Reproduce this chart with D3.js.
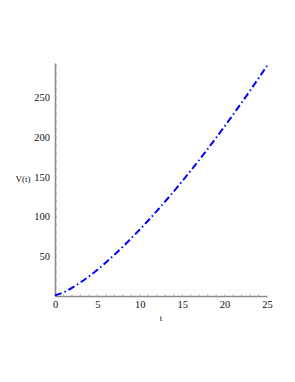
<!DOCTYPE html>
<html lang="en">
  <head>
    <meta charset="UTF-8">
    <title>V(t)</title>
    <script src="https://d3js.org/d3.v7.min.js"></script>
    <style>
      * {
        margin: 0;
        padding: 0;
      }
      body {
        background: #fff;
      }
      body > svg {
        display: block;
      }
    </style>
  </head>
  <body>
    <script>
      // values
      var times = [0, 1, 2, 3, 4, 5, 6, 7, 8, 9, 10, 11, 12, 13, 14, 15, 16, 17, 18, 19, 20, 21, 22, 23, 24, 25];
      var volume = [1, 4.6, 10.2, 17, 24.7, 33, 42.2, 51.8, 62, 72.6, 83.6, 95, 106.8, 119, 131.5, 144.3, 157.5, 171, 184.8, 199, 213.3, 228, 243, 258.2, 273.7, 289.5];
      var xTicks = [0, 5, 10, 15, 20, 25];
      var yTicks = [50, 100, 150, 200, 250];

      var width = 295;
      var height = 382;

      var svg = d3.select("body").append("svg")
        .attr("width", width)
        .attr("height", height);

      var x = d3.scaleLinear().domain([0, 25]).range([55, 267]);
      var y = d3.scaleLinear().domain([0, 293]).range([296, 63]);

      var axisColor = "#8c8c8c";
      var font = "'Liberation Serif', 'DejaVu Serif', serif";

      // minor ticks
      svg.append("g").selectAll("line")
        .data(d3.range(1, 25))
        .enter().append("line")
        .attr("x1", function (d) { return x(d); })
        .attr("x2", function (d) { return x(d); })
        .attr("y1", y(0))
        .attr("y2", y(0) - 2)
        .attr("stroke", "#c4c4c4")
        .attr("stroke-width", 1);

      svg.append("g").selectAll("line")
        .data(d3.range(10, 293, 10))
        .enter().append("line")
        .attr("y1", function (d) { return y(d); })
        .attr("y2", function (d) { return y(d); })
        .attr("x1", x(0))
        .attr("x2", x(0) + 2)
        .attr("stroke", "#c4c4c4")
        .attr("stroke-width", 1);

      // axes
      var xAxis = svg.append("g")
        .attr("transform", "translate(0," + y(0) + ")")
        .call(d3.axisBottom(x).tickValues(xTicks).tickSize(0).tickPadding(5));
      var yAxis = svg.append("g")
        .attr("transform", "translate(" + x(0) + ",0)")
        .call(d3.axisLeft(y).tickValues(yTicks).tickSize(0).tickPadding(5));

      [xAxis, yAxis].forEach(function (a) {
        a.select(".domain").attr("stroke", axisColor).attr("stroke-width", 1.6);
        a.selectAll("text")
          .attr("fill", "#111")
          .style("font-family", font)
          .style("font-size", "10.5px");
      });

      // curve
      var line = d3.line()
        .x(function (d, i) { return x(times[i]); })
        .y(function (d) { return y(d); })
        .curve(d3.curveMonotoneX);

      svg.append("path")
        .datum(volume)
        .attr("d", line)
        .attr("fill", "none")
        .attr("stroke", "#0000ff")
        .attr("stroke-width", 2)
        .attr("stroke-dasharray", "7,3,1.5,3");

      // axis labels
      svg.append("text")
        .attr("x", 161)
        .attr("y", 321)
        .attr("text-anchor", "middle")
        .style("font-family", font)
        .style("font-size", "9px")
        .attr("fill", "#111")
        .text("t");

      svg.append("text")
        .attr("x", 23)
        .attr("y", 182)
        .attr("text-anchor", "middle")
        .style("font-family", font)
        .style("font-size", "9px")
        .attr("fill", "#111")
        .text("V(t)");
    </script>
  </body>
</html>
